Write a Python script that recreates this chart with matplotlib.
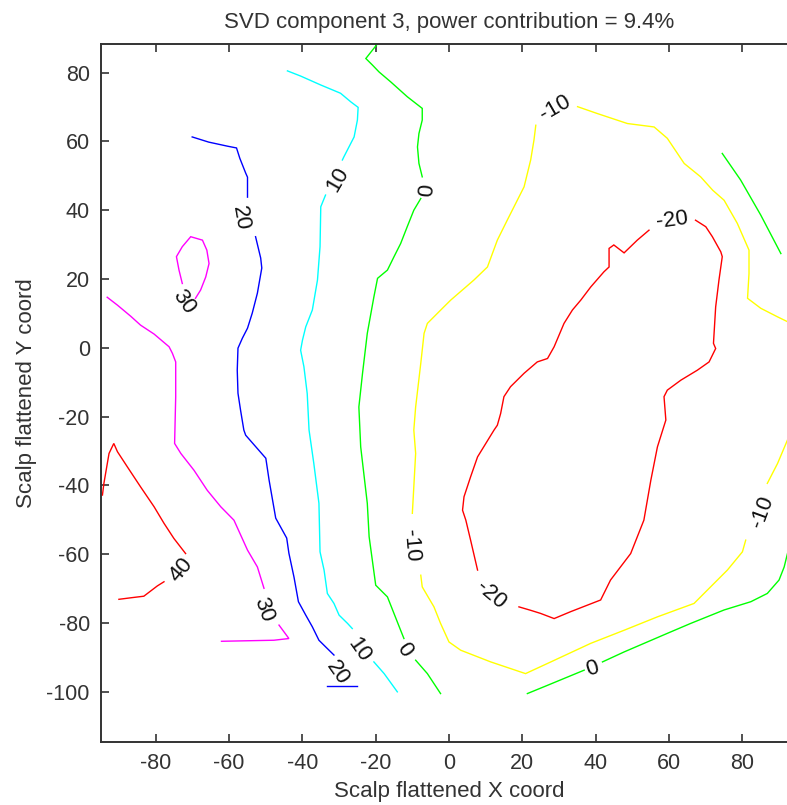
import matplotlib
matplotlib.use("Agg")
import matplotlib.pyplot as plt

plt.rcParams['font.family'] = ['Liberation Sans', 'DejaVu Sans']
plt.rcParams['axes.unicode_minus'] = False

# contour paths per level, each level split into segments (gaps leave room for labels)
level_40 = [
    [(-94.6, -42.8), (-94.2, -39.4), (-92.8, -30.7), (-91.5, -27.8), (-90.5, -30.2),
     (-87.8, -34.6), (-84.2, -40.4), (-80.5, -46.2), (-77.8, -51.0), (-75.1, -55.4),
     (-71.9, -59.8)],
    [(-77.8, -68.0), (-79.6, -69.2), (-83.3, -72.2), (-86.4, -72.6), (-90.1, -73.1)],
]

level_30 = [
    [(-93.3, 14.7), (-90.5, 12.4), (-86.9, 9.2), (-84.2, 6.6), (-80.5, 4.0),
     (-76.4, 0.3), (-75.5, -1.6), (-74.6, -4.1), (-74.6, -14.2), (-74.9, -27.8),
     (-73.2, -30.7), (-69.6, -35.6), (-66.0, -41.4), (-62.3, -46.2), (-58.7, -50.1),
     (-55.0, -58.8), (-52.3, -63.7), (-50.5, -69.9)],
    [(-46.4, -80.6), (-43.7, -84.5), (-47.8, -85.0), (-62.1, -85.3)],
    [(-72.8, 18.7), (-73.7, 22.6), (-74.4, 26.5), (-72.8, 29.4), (-70.5, 32.3),
     (-67.3, 31.3), (-66.1, 28.4), (-65.5, 24.5), (-66.4, 20.6), (-67.8, 16.8),
     (-69.2, 14.4)],
]

level_20 = [
    [(-70.1, 61.3), (-65.6, 59.8), (-60.4, 58.6), (-58.0, 58.1), (-57.1, 55.1),
     (-55.5, 50.8), (-55.0, 49.6), (-55.0, 43.8)],
    [(-52.8, 32.3), (-51.4, 26.1), (-51.1, 23.2), (-52.3, 15.9), (-53.7, 10.1),
     (-55.0, 5.7), (-56.4, 2.8), (-57.6, -0.1), (-57.8, -6.5), (-57.6, -13.2),
     (-56.9, -18.1), (-56.0, -23.9), (-55.5, -25.4), (-50.0, -32.1), (-49.1, -38.5),
     (-47.3, -49.5), (-44.3, -55.3), (-43.7, -59.7), (-42.3, -66.7), (-41.1, -73.8),
     (-39.1, -77.7), (-37.3, -81.1), (-35.5, -85.0), (-33.7, -86.9), (-31.4, -89.3)],
    [(-33.2, -98.3), (-25.0, -98.3)],
]

level_10 = [
    [(-44.1, 80.5), (-40.5, 79.0), (-35.0, 76.4), (-29.6, 74.0), (-26.8, 71.5),
     (-24.8, 69.9), (-25.0, 66.2), (-25.9, 61.3), (-27.3, 58.4), (-28.7, 55.5),
     (-29.1, 54.6)],
    [(-33.7, 44.4), (-35.0, 41.0), (-35.2, 29.4), (-35.9, 19.7), (-37.3, 11.0),
     (-39.1, 6.1), (-40.0, 2.2), (-40.5, -0.7), (-39.6, -5.5), (-38.7, -13.3),
     (-38.2, -23.9), (-36.9, -33.6), (-35.5, -45.2), (-35.2, -59.3), (-34.1, -64.6),
     (-33.2, -71.4), (-31.4, -74.3), (-30.0, -77.7), (-27.7, -80.1), (-26.4, -81.6)],
    [(-20.5, -91.3), (-17.7, -94.7), (-14.1, -100.0)],
]

level_0 = [
    [(-19.5, 88.4), (-22.7, 84.1), (-20.9, 82.2), (-19.1, 80.2), (-15.9, 77.3),
     (-13.7, 75.2), (-11.4, 73.0), (-7.3, 69.6), (-7.3, 66.2), (-8.2, 62.3),
     (-8.6, 58.4), (-8.2, 53.6), (-7.3, 49.7)],
    [(-7.7, 43.4), (-9.6, 40.0), (-11.4, 35.2), (-13.2, 30.3), (-15.0, 26.5),
     (-16.8, 22.6), (-19.5, 20.2), (-20.5, 14.8), (-22.3, 4.2), (-23.6, -7.4),
     (-24.6, -17.2), (-24.1, -28.8), (-22.3, -45.2), (-21.8, -54.9), (-20.0, -69.0),
     (-16.8, -72.4), (-13.2, -82.1), (-12.3, -84.5)],
    [(-9.1, -90.8), (-5.9, -94.7), (-2.3, -100.5)],
    [(74.6, 56.5), (79.6, 48.8), (85.1, 38.6), (90.6, 27.4)],
    [(21.4, -100.5), (26.9, -98.1), (36.9, -93.7)],
    [(41.9, -91.3), (47.8, -88.4), (59.6, -83.0), (66.0, -80.1), (75.1, -76.2),
     (82.4, -73.8), (86.9, -71.4), (90.1, -67.5), (91.5, -63.7), (92.4, -59.8),
     (93.3, -55.9)],
]

level_m10 = [
    [(23.7, 64.7), (23.2, 60.4), (22.3, 54.6), (21.4, 50.7), (20.5, 46.8),
     (19.6, 44.9), (15.9, 37.1), (13.2, 31.3), (10.5, 23.5), (6.8, 19.7),
     (0.5, 13.9), (-1.4, 11.9), (-5.9, 7.1), (-6.8, 4.2), (-7.7, -4.5),
     (-9.1, -17.2), (-9.6, -23.9), (-9.1, -30.7), (-9.6, -40.4), (-10.0, -48.1)],
    [(-7.7, -66.1), (-7.3, -69.5), (-4.1, -75.3), (-2.3, -80.1), (0.0, -85.5),
     (3.2, -87.9), (11.4, -91.3), (20.9, -94.7), (27.8, -91.3), (38.7, -85.9),
     (47.8, -82.1), (56.9, -78.2), (66.9, -74.3), (71.4, -69.5), (76.0, -64.6),
     (80.1, -59.3), (81.0, -55.9)],
    [(86.9, -39.4), (89.7, -33.6), (92.4, -26.8), (94.0, -22.0)],
    [(35.1, 70.1), (40.5, 68.1), (48.7, 65.2), (56.0, 64.2), (59.6, 60.9),
     (64.2, 53.6), (68.7, 49.7), (72.0, 45.8), (75.1, 42.9), (78.7, 36.2),
     (81.9, 28.4), (81.9, 21.6), (81.5, 14.4), (85.1, 11.5), (89.7, 9.0),
     (92.4, 7.6), (94.0, 6.8)],
]

level_m20 = [
    [(54.6, 34.2), (51.4, 31.3), (47.8, 27.6), (45.0, 29.9), (43.7, 28.9),
     (43.7, 23.5), (42.3, 22.1), (38.7, 17.7), (36.0, 13.9), (33.7, 11.0),
     (31.4, 7.1), (28.7, 0.3), (26.9, -3.1), (24.1, -4.1), (20.5, -7.4),
     (16.8, -11.3), (15.0, -14.2), (14.1, -19.1), (13.2, -22.5), (12.3, -23.9),
     (7.8, -31.7), (5.9, -37.5), (4.1, -43.3), (3.7, -47.2), (4.6, -50.1),
     (5.9, -55.9), (7.8, -64.6)],
    [(19.1, -75.3), (22.3, -76.3), (25.0, -77.2), (28.7, -78.7), (33.2, -76.7),
     (41.4, -73.3), (44.1, -67.5), (49.6, -59.8), (53.2, -50.1), (55.1, -38.5),
     (56.9, -28.8), (59.2, -21.0), (58.7, -14.2), (59.6, -12.3), (63.3, -9.4),
     (67.8, -6.5), (71.0, -4.1), (72.8, -0.2), (72.2, 1.3), (72.8, 11.9),
     (73.7, 19.7), (74.6, 26.5), (74.2, 27.9), (71.9, 32.3), (70.1, 35.2),
     (67.3, 37.1)],
]

levels = [40, 30, 20, 10, 0, -10, -20]
level_paths = [level_40, level_30, level_20, level_10, level_0, level_m10, level_m20]
level_colors = ['#ff0000', '#ff00ff', '#0000ff', '#00ffff', '#00ff00', '#ffff00', '#ff0000']

# inline contour labels: text, x, y, angle
label_text = ['40', '30', '30', '20', '20', '10', '10', '0', '0', '0',
              '-10', '-10', '-10', '-20', '-20']
label_x = [-73.2, -72.5, -50.5, -56.9, -30.5, -30.4, -24.7, -5.9, -12.3, 39.1,
           29.1, -10.5, 85.6, 61.0, 11.4]
label_y = [-64.6, 13.4, -76.2, 37.7, -94.6, 48.8, -87.9, 45.8, -87.9, -93.2,
           69.6, -57.4, -47.7, 37.1, -71.9]
label_rot = [50, -55, -70, -80, -55, 60, -55, 85, -55, 18,
             30, -85, 70, 8, -40]

fig = plt.figure(figsize=(7.87, 8.05), dpi=100)
ax = fig.add_axes([0.1283, 0.0786, 0.8844, 0.8671])

for paths, color in zip(level_paths, level_colors):
    for seg in paths:
        xs = [p[0] for p in seg]
        ys = [p[1] for p in seg]
        ax.plot(xs, ys, color=color, lw=1.0, solid_joinstyle='miter')

for txt, x, y, rot in zip(label_text, label_x, label_y, label_rot):
    ax.text(x, y, txt, rotation=rot, rotation_mode='anchor', ha='center', va='center',
            fontsize=16, color='#111111')

ax.set_xlim(-95, 95)
ax.set_ylim(-114.5, 88.4)
ax.set_xticks(range(-80, 81, 20))
ax.set_yticks(range(-100, 81, 20))

ax.tick_params(direction='in', length=6, width=1.2, top=True, right=True,
               labelsize=15.5, labelcolor='#333333', color='#333333', pad=8)
for spine in ax.spines.values():
    spine.set_linewidth(1.4)
    spine.set_color('#333333')

ax.set_title('SVD component 3, power contribution = 9.4%', fontsize=16,
             color='#333333', pad=11)
ax.set_xlabel('Scalp flattened X coord', fontsize=16, color='#333333', labelpad=5)
ax.set_ylabel('Scalp flattened Y coord', fontsize=16, color='#333333', labelpad=7)

fig.savefig('out.png', dpi=100)
